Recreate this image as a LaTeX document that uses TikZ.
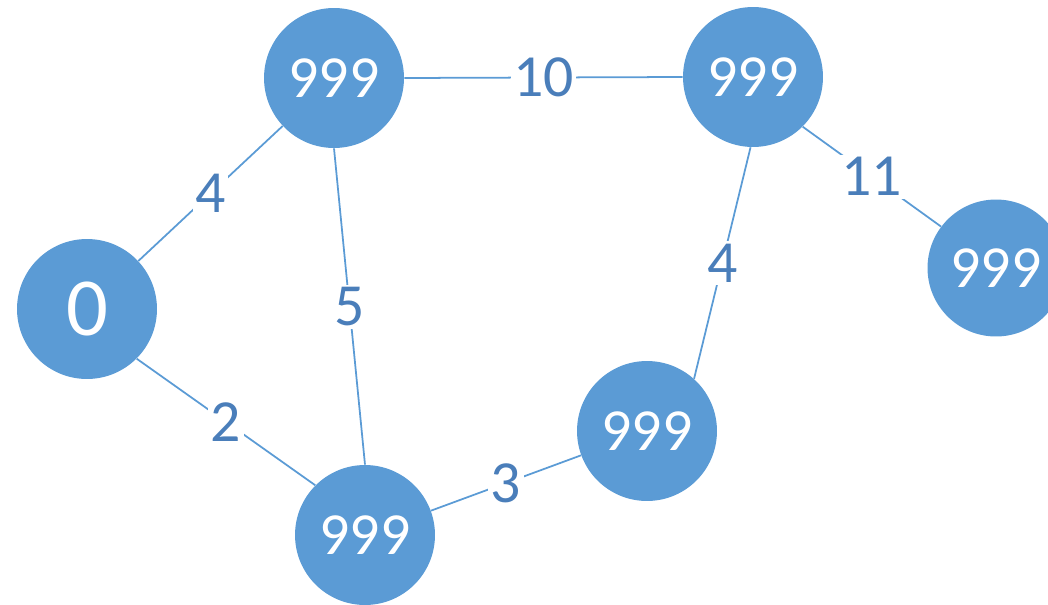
\documentclass[tikz,border=0pt]{standalone}
\usepackage{fontspec}
\setmainfont{Carlito}
\usepackage{xcolor}
\usetikzlibrary{calc, positioning}
\definecolor{nodeblue}{HTML}{5B9BD5}
\definecolor{weightblue}{HTML}{4A7EBA}

\begin{document}
\begin{tikzpicture}
                      [x=0.02cm, y=-0.02cm,
                       vertex/.style={circle, fill=nodeblue, draw=none, minimum size=2.8cm, inner sep=0pt,
                                      text=white, font=\fontsize{34}{34}\selectfont},
                       weight/.style={fill=white, inner sep=1.5pt, text=weightblue,
                                      font=\fontsize{34}{34}\selectfont},
                       edge/.style={draw=nodeblue, line width=1pt}]
                      \useasboundingbox (0,0) rectangle (1048,605);
                      % nodes %
                      \node[vertex, font=\fontsize{47}{47}\selectfont] (s) at (87,309) {0};
                      \node[vertex] (a) at (334,78) {999};
                      \node[vertex] (b) at (753,77) {999};
                      \node[vertex, minimum size=2.74cm] (c) at (996,268) {999};
                      \node[vertex] (d) at (647,431) {999};
                      \node[vertex] (e) at (365,535) {999};

                      % edges %
                      \draw[edge] (s) -- node[weight] {4} (a);
                      \draw[edge] (s.315) -- node[weight] {2} (e.135);
                      \draw[edge] (a.270) -- node[weight] {5} (e.90);
                      \draw[edge] (a.0) -- node[weight] {10} (b.180);
                      \draw[edge] (e) -- node[weight] {3} (d);
                      \draw[edge] (b.268) -- node[weight] {4} (d.48);
                      \draw[edge] (b.315) -- node[weight] {11} (c.143);
                    \end{tikzpicture}
\end{document}
